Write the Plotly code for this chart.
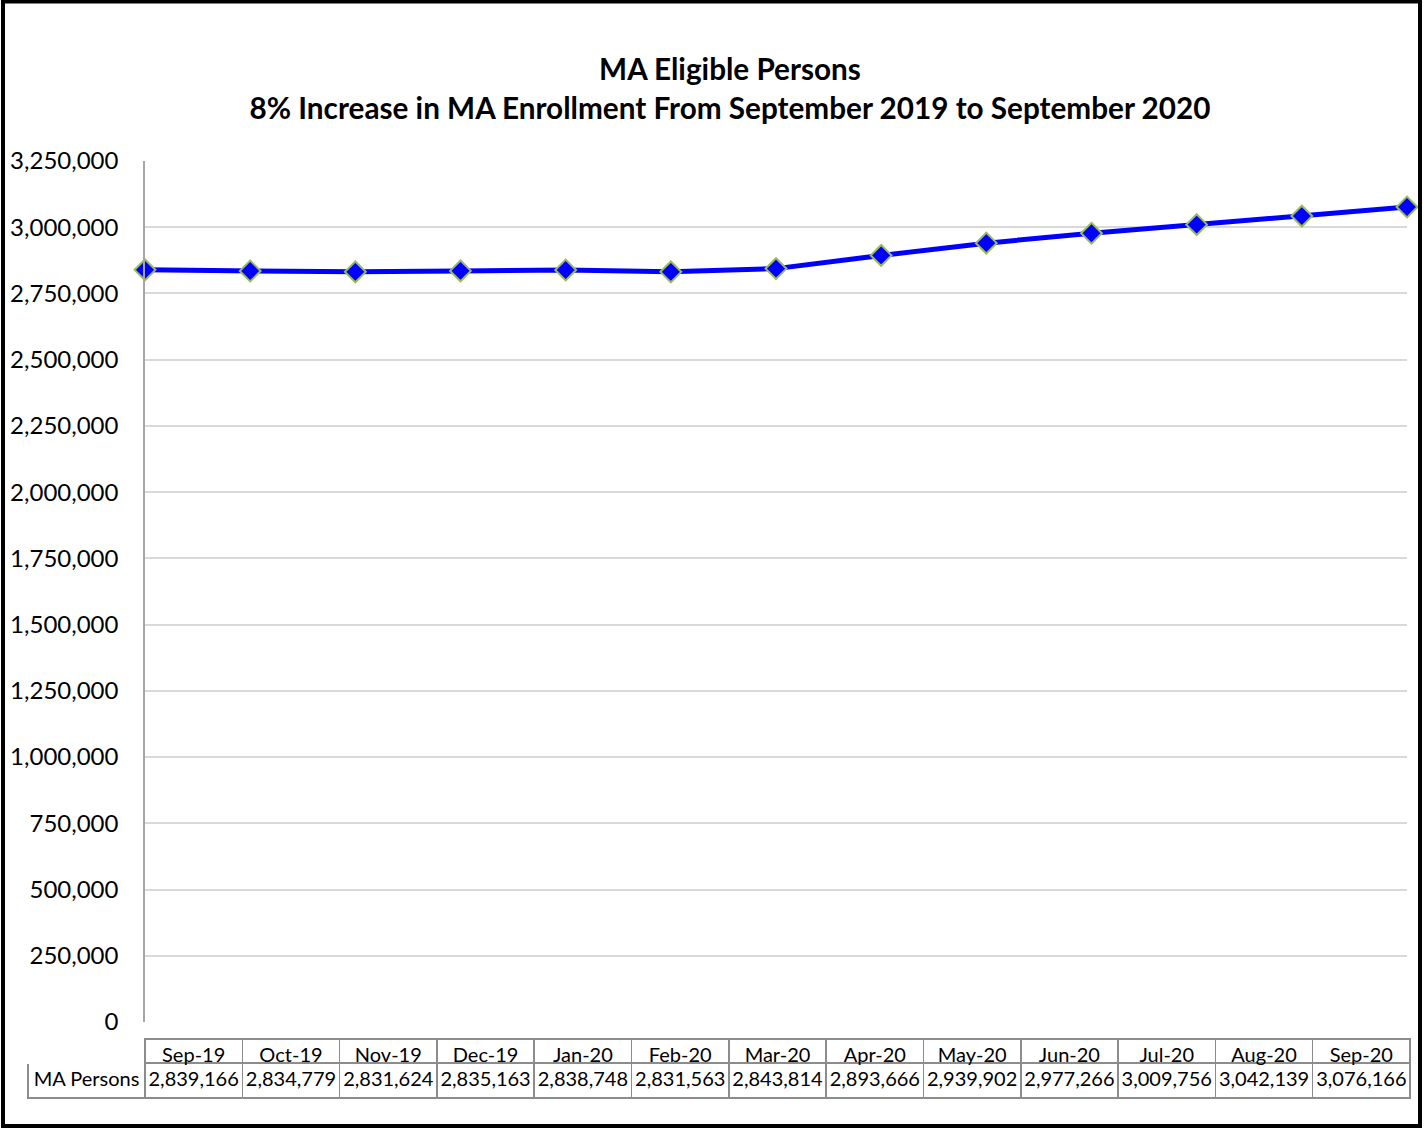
import plotly.graph_objects as go

months = ["Sep-19", "Oct-19", "Nov-19", "Dec-19", "Jan-20", "Feb-20", "Mar-20",
          "Apr-20", "May-20", "Jun-20", "Jul-20", "Aug-20", "Sep-20"]
ma_persons = [2839166, 2834779, 2831624, 2835163, 2838748, 2831563, 2843814,
              2893666, 2939902, 2977266, 3009756, 3042139, 3076166]
series_name = "MA Persons"
y_ticks = list(range(0, 3250001, 250000))

W, H = 1428, 1128
FONT = "Lato, Carlito, Calibri, sans-serif"

fig = go.Figure()

fig.add_trace(go.Scatter(
    x=months, y=ma_persons, mode="lines+markers", name=series_name,
    line=dict(color="#0000FF", width=5),
    marker=dict(symbol="diamond", size=16, color="#0000FF",
                line=dict(color="#9BBB59", width=2)),
    cliponaxis=False, showlegend=False,
))

grid = "#D9D9D9"
border = "#8C8C8C"
fig.add_trace(go.Table(
    domain=dict(x=[28 / W, 1410 / W], y=[1 - 1101 / H, 1 - 1039 / H]),
    columnwidth=[117] + [97.3] * len(months),
    header=dict(values=[""] + months, height=24, align="center",
                fill_color="white",
                line=dict(color=["white"] + [border] * len(months), width=1.5),
                font=dict(family=FONT, size=20, color="black")),
    cells=dict(values=[[series_name.replace(" ", "\u00a0")]] + [[f"{v:,}"] for v in ma_persons],
               height=35, align="center", fill_color="white",
               line=dict(color=border, width=1.5),
               font=dict(family=FONT, size=20, color="black")),
))

fig.update_layout(
    width=W, height=H, autosize=False,
    margin=dict(l=0, r=0, t=0, b=0, pad=0, autoexpand=False),
    paper_bgcolor="white", plot_bgcolor="white",
    font=dict(family=FONT, color="black"),
    title=dict(
        text="<b>MA Eligible Persons</b><br><b>8% Increase in MA Enrollment From September 2019 to September 2020</b>",
        x=730 / W, xanchor="center", y=1 - 80 / H, yanchor="top", automargin=False,
        font=dict(family=FONT, size=29.7, color="black"),
    ),
    xaxis=dict(type="category", domain=[145 / W, 1407 / W], range=[0, len(months) - 1],
               showticklabels=False, showgrid=False, zeroline=False, automargin=False,
               showline=False, ticks=""),
    yaxis=dict(domain=[1 - 1022 / H, 1 - 161 / H], range=[0, 3250000], automargin=False,
               tickvals=y_ticks, tickformat=",", showgrid=True, gridcolor=grid,
               gridwidth=1.5, zeroline=False, showline=True, linecolor="#A6A6A6",
               linewidth=1.5, ticks="", ticklabelstandoff=20,
               tickfont=dict(family=FONT, size=24, color="black")),
    shapes=[dict(type="rect", xref="paper", yref="paper",
                 x0=3 / W, x1=1420 / W, y0=2 / H, y1=1 - 1.5 / H,
                 line=dict(color="black", width=4), fillcolor="rgba(0,0,0,0)")],
)

fig.write_html(
    "out.html",
    config={"displayModeBar": False},
    post_script=(
        "document.documentElement.style.margin='0';"
        "document.documentElement.style.overflow='hidden';"
        "document.body.style.margin='0';"
        "document.body.style.overflow='hidden';"
        "var d=document.getElementById('{plot_id}');"
        "d.style.position='fixed';d.style.top='0';d.style.left='0';"
    ),
)
